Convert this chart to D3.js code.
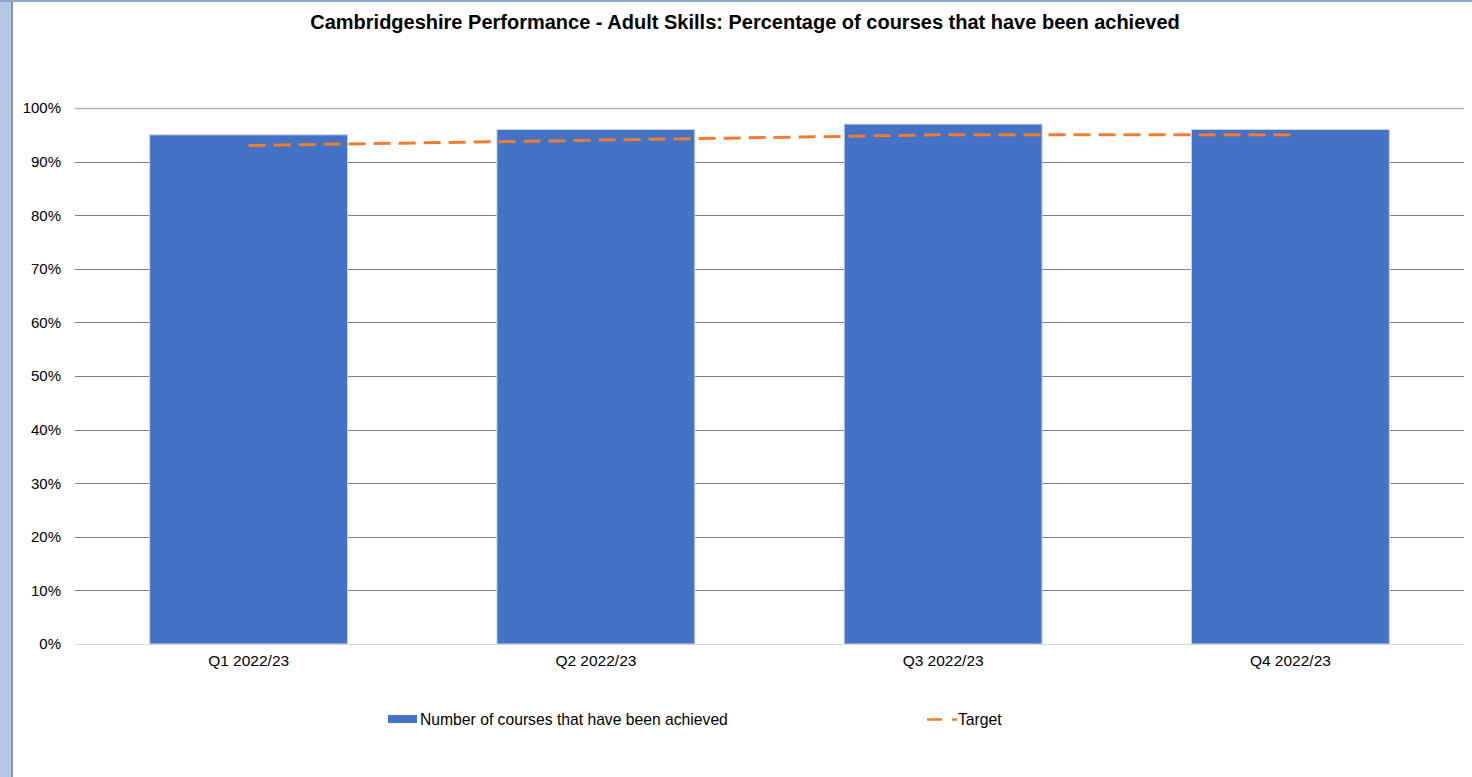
<!DOCTYPE html>
<html>
<head>
<meta charset="utf-8">
<script src="https://cdn.jsdelivr.net/npm/d3@7"></script>
<style>
  html, body { margin: 0; padding: 0; background: #fff; }
  svg { display: block; font-family: "Liberation Sans", Arial, sans-serif; }
</style>
</head>
<body>
<svg id="chart" width="1472" height="777"></svg>
<script>
// Quarterly results and targets
const quarters = ["Q1 2022/23", "Q2 2022/23", "Q3 2022/23", "Q4 2022/23"];
const achieved = [95, 96, 97, 96];
const target = [93, 94, 95, 95];
const yTicks = [0, 10, 20, 30, 40, 50, 60, 70, 80, 90, 100];
const titleText = "Cambridgeshire Performance - Adult Skills: Percentage of courses that have been achieved";
const barLabel = "Number of courses that have been achieved";
const lineLabel = "Target";

const W = 1472, H = 777;
const svg = d3.select("#chart");

// window frame: pale blue strip on the left and along the top
svg.append("rect").attr("x", 0).attr("y", 0).attr("width", 11).attr("height", H).attr("fill", "#b4c7e7");
svg.append("rect").attr("x", 0).attr("y", 0).attr("width", W).attr("height", 2).attr("fill", "#8fa6cc");
svg.append("line").attr("x1", 12).attr("x2", 12).attr("y1", 2).attr("y2", H)
  .attr("stroke", "#6d6d6d").attr("stroke-width", 1.5);

const plot = { left: 75, right: 1464, top: 108, bottom: 644 };

const x = d3.scaleBand().domain(quarters).range([plot.left, plot.right]).paddingInner(0.43).paddingOuter(0.215);
const y = d3.scaleLinear().domain([0, 100]).range([plot.bottom, plot.top]);

// title
svg.append("text")
  .attr("x", 745).attr("y", 29)
  .attr("text-anchor", "middle")
  .attr("font-size", 20).attr("font-weight", "bold").attr("fill", "#000")
  .text(titleText);

// horizontal gridlines
svg.append("g").selectAll("line").data(yTicks).join("line")
  .attr("x1", plot.left).attr("x2", plot.right)
  .attr("y1", d => Math.round(y(d)) + 0.5).attr("y2", d => Math.round(y(d)) + 0.5)
  .attr("stroke", d => d === 0 ? "#d9d9d9" : (d === 100 ? "#b3b3b3" : "#808080"))
  .attr("stroke-width", d => d === 100 ? 1.6 : 1);

// y axis labels
const yAxis = d3.axisLeft(y).tickValues(yTicks).tickFormat(d => d + "%").tickSize(0).tickPadding(0);
const gy = svg.append("g").attr("transform", `translate(61,0)`).call(yAxis);
gy.select(".domain").remove();
gy.selectAll("text").attr("font-size", 15).attr("fill", "#000")
  .attr("font-family", "'Liberation Sans', Arial, sans-serif");

// bars
svg.append("g").selectAll("rect").data(quarters).join("rect")
  .attr("x", d => x(d))
  .attr("y", (d, i) => y(achieved[i]))
  .attr("width", x.bandwidth())
  .attr("height", (d, i) => y(0) - y(achieved[i]))
  .attr("fill", "#4472c4")
  .attr("stroke", "#d0d5de").attr("stroke-width", 1);

// x axis labels
const xAxis = d3.axisBottom(x).tickSize(0).tickPadding(0);
const gx = svg.append("g").attr("transform", `translate(0,${plot.bottom + 11})`).call(xAxis);
gx.select(".domain").remove();
gx.selectAll("text").attr("font-size", 15.5).attr("fill", "#000")
  .attr("font-family", "'Liberation Sans', Arial, sans-serif");

// target line
const line = d3.line()
  .x((d, i) => x(quarters[i]) + x.bandwidth() / 2)
  .y(d => y(d));
svg.append("path")
  .datum(target)
  .attr("d", line)
  .attr("fill", "none")
  .attr("stroke", "#ed7d31")
  .attr("stroke-width", 3)
  .attr("stroke-dasharray", "17,8");

// legend
const lg = svg.append("g");
lg.append("rect").attr("x", 388).attr("y", 715).attr("width", 29).attr("height", 8).attr("fill", "#4472c4");
lg.append("text").attr("x", 420).attr("y", 725).attr("font-size", 15.7).attr("fill", "#000").text(barLabel);
lg.append("line").attr("x1", 927).attr("x2", 957).attr("y1", 719.5).attr("y2", 719.5)
  .attr("stroke", "#ed7d31").attr("stroke-width", 2.5).attr("stroke-dasharray", "15,10");
lg.append("text").attr("x", 958).attr("y", 725).attr("font-size", 15.7).attr("fill", "#000").text(lineLabel);
</script>
</body>
</html>
